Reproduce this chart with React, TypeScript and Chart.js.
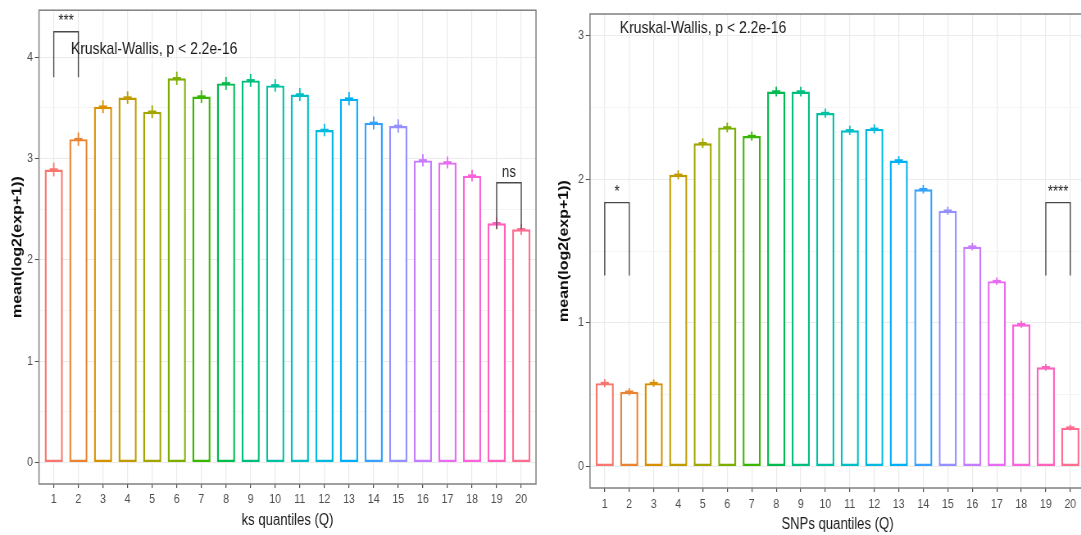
import React, { useEffect, useRef } from 'react';
import { Chart, registerables } from 'chart.js';

Chart.register(...registerables);

// ---------- data ----------
const quantiles = [1, 2, 3, 4, 5, 6, 7, 8, 9, 10, 11, 12, 13, 14, 15, 16, 17, 18, 19, 20];
const qColors = [
  '#F8766D', '#EA8331', '#D89000', '#C09B00', '#A3A500', '#7CAE00', '#39B600', '#00BB4E', '#00BF7D', '#00C1A3',
  '#00BFC4', '#00BAE0', '#00B0F6', '#35A2FF', '#9590FF', '#C77CFF', '#E76BF3', '#FA62DB', '#FF62BC', '#FF6C91',
];

const ksMeans = [2.89, 3.19, 3.51, 3.6, 3.46, 3.79, 3.61, 3.74, 3.77, 3.72, 3.63, 3.28, 3.59, 3.35, 3.32, 2.98, 2.96, 2.83, 2.36, 2.3];
const ksSE = [0.068, 0.066, 0.064, 0.062, 0.064, 0.066, 0.062, 0.064, 0.064, 0.062, 0.064, 0.062, 0.066, 0.064, 0.066, 0.06, 0.06, 0.058, 0.055, 0.055];

const snpMeans = [0.58, 0.52, 0.58, 2.03, 2.25, 2.36, 2.3, 2.61, 2.61, 2.46, 2.34, 2.35, 2.13, 1.93, 1.78, 1.53, 1.29, 0.99, 0.69, 0.27];
const snpSE = [0.028, 0.026, 0.026, 0.032, 0.034, 0.034, 0.032, 0.034, 0.034, 0.032, 0.032, 0.032, 0.03, 0.03, 0.028, 0.026, 0.026, 0.024, 0.024, 0.02];

const ksYGrid = [0, 0.5, 1, 1.5, 2, 2.5, 3, 3.5, 4];
const snpYGrid = [0, 0.5, 1, 1.5, 2, 2.5, 3];

const ksBrackets = [
  { from: 1, to: 2, top: 4.25, tip: 3.8, label: '***' },
  { from: 19, to: 20, top: 2.76, tip: 2.3, label: 'ns' },
];
const snpBrackets = [
  { from: 1, to: 2, top: 1.837, tip: 1.33, label: '*' },
  { from: 19, to: 20, top: 1.837, tip: 1.33, label: '****' },
];

const kwLabel = 'Kruskal-Wallis, p < 2.2e-16';

// ---------- layout ----------
const SQ = 0.82; // horizontal squeeze of the original figure
const FONT = "'Liberation Sans', Arial, Helvetica, sans-serif";

type PanelSpec = {
  means: number[];
  se: number[];
  yGrid: number[];
  yMin: number;
  yMax: number;
  brackets: { from: number; to: number; top: number; tip: number; label: string }[];
  kwX: number;
  kwY: number;
  xTitle: string;
  canvasLeft: number;
  canvasW: number;
  plotLeft: number;
  plotRight: number;
  plotTop: number;
  plotBottom: number;
  yTitleX: number;
  xTitleY: number;
  xTickPad: number;
};

const panels: PanelSpec[] = [
  {
    means: ksMeans, se: ksSE, yGrid: ksYGrid, yMin: -0.2125, yMax: 4.4625, brackets: ksBrackets,
    kwX: 1.7, kwY: 4.08, xTitle: 'ks quantiles (Q)',
    canvasLeft: 0, canvasW: 545, plotLeft: 39, plotRight: 536, plotTop: 8, plotBottom: 484,
    yTitleX: 18, xTitleY: 521, xTickPad: 4,
  },
  {
    means: snpMeans, se: snpSE, yGrid: snpYGrid, yMin: -0.15, yMax: 3.15, brackets: snpBrackets,
    kwX: 1.62, kwY: 3.05, xTitle: 'SNPs quantiles (Q)',
    canvasLeft: 545, canvasW: 550, plotLeft: 590, plotRight: 1085, plotTop: 14, plotBottom: 488,
    yTitleX: 564, xTitleY: 525, xTickPad: 5,
  },
];

function extrasPlugin(p: PanelSpec) {
  return {
    id: 'extras',
    afterDatasetsDraw(chart: any) {
      const { ctx, chartArea: a, scales } = chart;
      const x = scales.x;
      const y = scales.y;
      ctx.save();
      // error bars
      p.means.forEach((m, i) => {
        const px = x.getPixelForValue(quantiles[i]);
        ctx.strokeStyle = qColors[i];
        ctx.lineWidth = 1.8;
        ctx.beginPath();
        ctx.moveTo(px, y.getPixelForValue(m - p.se[i]));
        ctx.lineTo(px, y.getPixelForValue(m + p.se[i]));
        ctx.stroke();
        ctx.lineWidth = 2.6;
        ctx.beginPath();
        ctx.moveTo(px - 5, y.getPixelForValue(m));
        ctx.lineTo(px + 5, y.getPixelForValue(m));
        ctx.stroke();
      });
      // significance brackets
      ctx.strokeStyle = '#4a4a4a';
      ctx.lineWidth = 1.4;
      ctx.fillStyle = '#222';
      ctx.font = `16px ${FONT}`;
      ctx.textAlign = 'center';
      ctx.textBaseline = 'alphabetic';
      p.brackets.forEach((b) => {
        const x1 = x.getPixelForValue(b.from);
        const x2 = x.getPixelForValue(b.to);
        const yt = y.getPixelForValue(b.top);
        const yb = y.getPixelForValue(b.tip);
        ctx.beginPath();
        ctx.moveTo(x1, yb);
        ctx.lineTo(x1, yt);
        ctx.lineTo(x2, yt);
        ctx.lineTo(x2, yb);
        ctx.stroke();
        ctx.fillText(b.label, (x1 + x2) / 2, yt - 6);
      });
      // Kruskal-Wallis label
      ctx.font = `17px ${FONT}`;
      ctx.textAlign = 'left';
      ctx.textBaseline = 'middle';
      ctx.fillStyle = '#1a1a1a';
      ctx.fillText(kwLabel, x.getPixelForValue(p.kwX), y.getPixelForValue(p.kwY));
      // panel border
      ctx.strokeStyle = '#808080';
      ctx.lineWidth = 1.5;
      ctx.strokeRect(a.left, a.top, a.right - a.left, a.bottom - a.top);
      ctx.restore();
    },
  };
}

function Panel({ p }: { p: PanelSpec }) {
  const ref = useRef<HTMLCanvasElement>(null);
  const logicalW = Math.round(p.canvasW / SQ);
  const k = p.canvasW / logicalW;

  useEffect(() => {
    const canvas = ref.current!;
    const yAxisW = (p.plotLeft - p.canvasLeft) / k;
    const padRight = logicalW - (p.plotRight - p.canvasLeft) / k;
    const xAxisH = 535 - p.plotBottom;
    const yTitleCenter = (p.yTitleX - p.canvasLeft) / k;
    const isInt = (v: number) => Math.abs(v - Math.round(v)) < 1e-9;

    const chart = new Chart(canvas, {
      type: 'bar',
      data: {
        datasets: [
          {
            data: quantiles.map((q, i) => ({ x: q, y: p.means[i] })),
            backgroundColor: '#ffffff',
            borderColor: qColors,
            borderWidth: 2.4,
            borderSkipped: false,
            barPercentage: 0.74,
            categoryPercentage: 1,
          } as any,
        ],
      },
      options: {
        responsive: false,
        animation: false,
        devicePixelRatio: 1,
        layout: { padding: { top: p.plotTop, right: padRight, left: 0, bottom: 0 } },
        plugins: { legend: { display: false }, tooltip: { enabled: false } },
        scales: {
          x: {
            type: 'linear',
            min: 0.4,
            max: 20.6,
            offset: false,
            afterBuildTicks: (s: any) => {
              s.ticks = quantiles.map((v) => ({ value: v }));
            },
            afterFit: (s: any) => {
              s.height = xAxisH;
            },
            grid: { color: '#EBEBEB', lineWidth: 1.2, tickColor: '#4d4d4d', tickLength: 4, offset: false },
            border: { display: false },
            ticks: {
              color: '#4D4D4D',
              font: { family: FONT, size: 13 },
              padding: p.xTickPad,
              autoSkip: false,
              maxRotation: 0,
              callback: (v: any) => String(v),
            },
            title: {
              display: true,
              text: p.xTitle,
              color: '#1a1a1a',
              font: { family: FONT, size: 16 },
              padding: { top: 0, bottom: 535 - p.xTitleY - 9.6 },
            },
          },
          y: {
            type: 'linear',
            min: p.yMin,
            max: p.yMax,
            afterBuildTicks: (s: any) => {
              s.ticks = p.yGrid.map((v) => ({ value: v }));
            },
            afterFit: (s: any) => {
              s.width = yAxisW;
            },
            grid: {
              color: (c: any) => (c.tick && isInt(c.tick.value) ? '#EBEBEB' : '#F4F4F4'),
              tickColor: (c: any) => (c.tick && isInt(c.tick.value) ? '#4d4d4d' : 'rgba(0,0,0,0)'),
              lineWidth: 1,
              tickLength: 5,
            },
            border: { display: false },
            ticks: {
              color: '#4D4D4D',
              font: { family: FONT, size: 13 },
              padding: 2.4,
              callback: (v: any) => (isInt(Number(v)) ? String(Math.round(Number(v))) : ''),
            },
            title: {
              display: true,
              text: 'mean(log2(exp+1))',
              color: '#111',
              font: { family: FONT, size: 16, weight: 'bold' },
              padding: { top: yTitleCenter - 9.6, bottom: 0 },
            },
          },
        },
      } as any,
      plugins: [extrasPlugin(p)],
    });
    return () => chart.destroy();
  }, []);

  return (
    <canvas
      ref={ref}
      width={logicalW}
      height={535}
      style={{ position: 'absolute', left: p.canvasLeft, top: 0, width: p.canvasW, height: 535, display: 'block' }}
    />
  );
}

export default function App() {
  return (
    <div
      style={{
        position: 'absolute',
        left: 0,
        top: 0,
        width: 1081,
        height: 535,
        overflow: 'hidden',
        background: '#ffffff',
      }}
    >
      {panels.map((p, i) => (
        <Panel key={i} p={p} />
      ))}
    </div>
  );
}
